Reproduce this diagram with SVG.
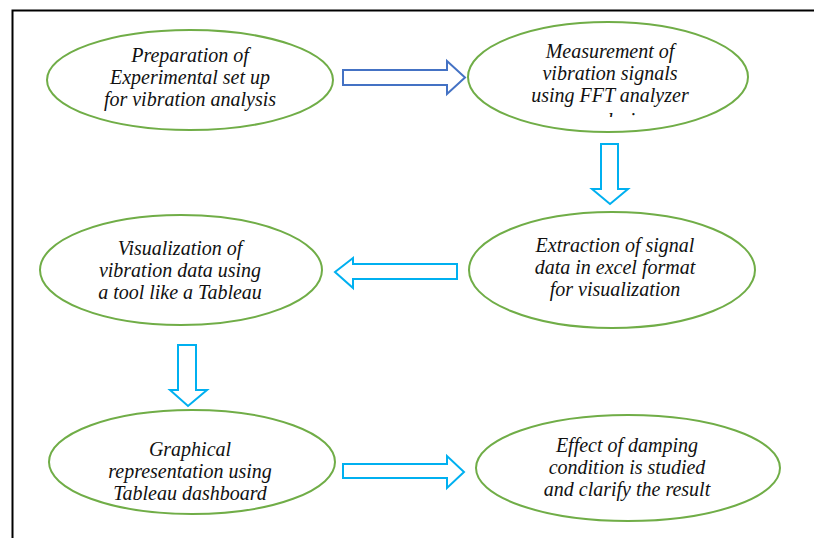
<svg xmlns="http://www.w3.org/2000/svg" width="814" height="538" viewBox="0 0 814 538">
<style>
.node ellipse{fill:#fff;stroke:#70AD47;stroke-width:2}
.node text{font-family:'Liberation Serif','DejaVu Serif',serif;font-style:italic;font-size:20px;fill:#111;text-anchor:middle}
.arr{fill:#fff;stroke:#00B0F0;stroke-width:2;stroke-linejoin:miter}
.arr.blue{stroke:#4472C4}
</style>
<defs>
<clipPath id="clip2"><rect x="440" y="0" width="330" height="117"/></clipPath>
</defs>
<rect width="814" height="538" fill="#fff"/>
<g id="frame"><path d="M12.5 538 V10.5 H814" fill="none" stroke="#000" stroke-width="2"/></g>
<g id="connectors">
<path class="arr blue" d="M343 70 H447 V61 L465 77.5 L447 94 V85 H343 Z"/>
<path class="arr" d="M601 144 H618 V189 H628 L610 204 L592 189 H601 Z"/>
<path class="arr" d="M457 264 H353 V258 L335 272 L353 288 V279 H457 Z"/>
<path class="arr" d="M178 345 H196 V390 H207 L188 406 L170 390 H178 Z"/>
<path class="arr" d="M343 464 H447 V456 L464 472 L447 488 V478 H343 Z"/>
</g>
<g id="n1" class="node"><ellipse cx="190" cy="80" rx="143" ry="50"/>
<text x="190" y="62">Preparation of</text><text x="190" y="84">Experimental set up</text><text x="190" y="106">for vibration analysis</text></g>
<g id="n2" class="node"><ellipse cx="608" cy="77" rx="140" ry="55"/>
<text x="610" y="58">Measurement of</text><text x="610" y="80">vibration signals</text><text x="610" y="102">using FFT analyzer</text><text x="610" y="127" clip-path="url(#clip2)">analysis</text></g>
<g id="n3" class="node"><ellipse cx="612" cy="270" rx="143" ry="58"/>
<text x="615" y="252">Extraction of signal</text><text x="615" y="274">data in excel format</text><text x="615" y="296">for visualization</text></g>
<g id="n4" class="node"><ellipse cx="181" cy="270" rx="141" ry="55"/>
<text x="180" y="255">Visualization of</text><text x="180" y="277">vibration data using</text><text x="180" y="299">a tool like a Tableau</text></g>
<g id="n5" class="node"><ellipse cx="192" cy="462" rx="143" ry="52"/>
<text x="190" y="456">Graphical</text><text x="190" y="478">representation using</text><text x="190" y="500">Tableau dashboard</text></g>
<g id="n6" class="node"><ellipse cx="628" cy="468" rx="152" ry="53"/>
<text x="627" y="452">Effect of damping</text><text x="627" y="474">condition is studied</text><text x="627" y="496">and clarify the result</text></g>
</svg>
